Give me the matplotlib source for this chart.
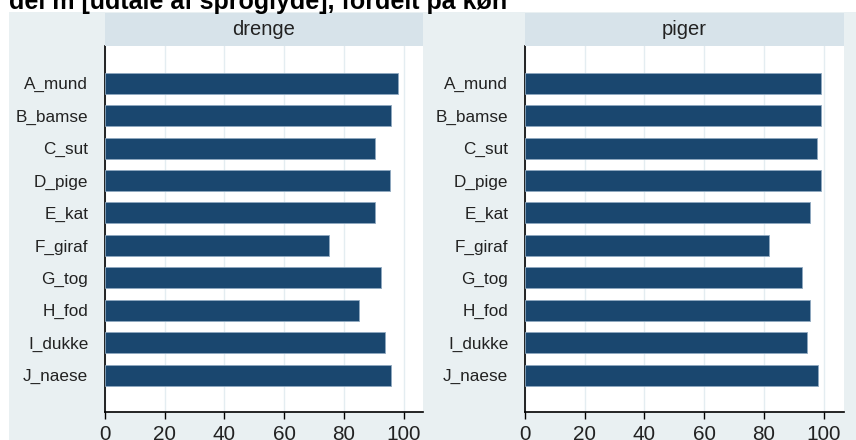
import matplotlib
matplotlib.use("Agg")
import matplotlib.pyplot as plt
from matplotlib.patches import Rectangle
from matplotlib import font_manager

categories = ["A_mund", "B_bamse", "C_sut", "D_pige", "E_kat",
              "F_giraf", "G_tog", "H_fod", "I_dukke", "J_naese"]
drenge = [98.1, 95.9, 90.4, 95.4, 90.4, 75.0, 92.4, 85.0, 93.7, 95.9]
piger = [99.0, 99.0, 97.7, 99.0, 95.4, 81.6, 92.7, 95.4, 94.6, 98.1]
panel_titles = ["drenge", "piger"]
xticks = [0, 20, 40, 60, 80, 100]
title = "del m [udtale af sproglyde], fordelt på køn"

names = {f.name for f in font_manager.fontManager.ttflist}
narrow = "Liberation Sans Narrow" if "Liberation Sans Narrow" in names else "Liberation Sans"
small_adj = 1.0 if narrow == "Liberation Sans Narrow" else 0.88

W, H = 856, 440
fig = plt.figure(figsize=(W / 100, H / 100), dpi=100)
fig.patch.set_facecolor("white")

BG = "#e9f0f2"
STRIP = "#d7e3ea"
BAR = "#1a476f"
GRID = "#e4edf1"

# grey graph region
fig.patches.append(Rectangle((9 / W, 0), 1 - 9 / W, 1 - 12 / H,
                             transform=fig.transFigure, facecolor=BG,
                             edgecolor="none", zorder=-10))

fig.text(9 / W, 1 - 9 / H, title, fontsize=18, fontweight="bold",
         family="Liberation Sans", va="baseline", ha="left")

panels = [(105, 423, drenge), (525, 844, piger)]
for (x0, x1, vals), ptitle in zip(panels, panel_titles):
    ax = fig.add_axes([x0 / W, 28 / H, (x1 - x0) / W, (412 - 46) / H])
    ax.set_zorder(1)
    ax.set_facecolor("white")
    y = list(range(len(categories)))
    ax.barh(y, vals, height=0.65, color=BAR, edgecolor="#8fa9c0",
            linewidth=0.6, zorder=3)
    ax.set_xlim(0, (x1 - x0) / 2.985)
    ax.set_ylim(9 + 1.14, -1.15)
    ax.set_yticks(y)
    ax.set_yticklabels(categories, family=narrow, fontsize=14 * small_adj,
                       color="#222222")
    ax.tick_params(axis="y", length=0, pad=12)
    ax.set_xticks(xticks)
    ax.set_xticklabels([str(t) for t in xticks], family=narrow,
                       fontsize=17 * small_adj, color="#222222")
    ax.tick_params(axis="x", length=5, width=1, pad=4)
    ax.grid(axis="x", color=GRID, linewidth=1, zorder=0)
    for s in ["top", "right"]:
        ax.spines[s].set_visible(False)
    for s in ["left", "bottom"]:
        ax.spines[s].set_color("black")
        ax.spines[s].set_linewidth(1.2)
    sax = fig.add_axes([x0 / W, (H - 46) / H, (x1 - x0) / W, 33 / H])
    sax.set_zorder(1)
    sax.set_facecolor(STRIP)
    sax.set_xticks([])
    sax.set_yticks([])
    for s in sax.spines.values():
        s.set_visible(False)
    sax.text(0.5, 0.5, ptitle, transform=sax.transAxes, ha="center",
             va="center", family=narrow, fontsize=16.5 * small_adj,
             color="#222222")

fig.savefig("out.png", dpi=100)
